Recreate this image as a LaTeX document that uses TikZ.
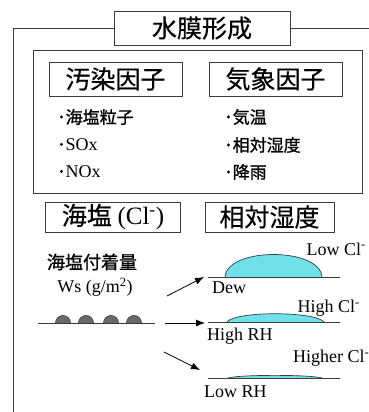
\documentclass[tikz,border=0pt]{standalone}
\usepackage{fontspec}
\setmainfont{Liberation Serif}
\newfontfamily\jp[FakeBold=0.4]{Noto Sans CJK JP}
\newfontfamily\jpm[FakeBold=1]{Noto Sans CJK JP}
\usetikzlibrary{arrows.meta}

\definecolor{edge}{RGB}{60,60,60}
\definecolor{dropfill}{RGB}{110,226,232}
\definecolor{saltfill}{RGB}{105,105,105}

\begin{document}
\begin{tikzpicture}[x=1pt,y=1pt,
  box/.style={draw=edge, line width=0.8pt, inner sep=0pt, font=\jp\fontsize{25}{27}\selectfont},
  item/.style={anchor=west, inner sep=0pt, font=\jpm\fontsize{17}{19}\selectfont},
  lbl/.style={inner sep=0pt, font=\fontsize{18}{20}\selectfont},
  go/.style={-{Latex[length=9pt,width=7pt]}, line width=0.8pt, draw=black},
  ground/.style={line width=0.8pt, draw=edge}]
  \useasboundingbox (0,0) rectangle (369,412);

  % outer frame with title
  \node[box, minimum width=176pt, minimum height=34pt] (title) at (202,384) {水膜形成};
  \coordinate (corner) at (13,0);
  \draw[ground] (corner) |- (title.west);
  \draw[ground] (title.east) -- ++(90,0);

  % factors
  \draw[ground] (33,219) rectangle (362,362);
  \node[box, minimum width=133pt, minimum height=34pt] (pollute) at (115.5,333) {汚染因子};
  \node[box, minimum width=133pt, minimum height=34pt] (weather) at (275.5,333) {気象因子};
  \node[item] (p1) at (57,295) {･海塩粒子};
  \node[item] (p2) at (57,267) {･\fontsize{18}{20}\rmfamily SOx};
  \node[item] (p3) at (57,240) {･\fontsize{18}{20}\rmfamily NOx};
  \node[item] (w1) at (224,295) {･気温};
  \node[item] (w2) at (224,267) {･相対湿度};
  \node[item] (w3) at (224,240) {･降雨};

  \node[box, minimum width=135pt, minimum height=30pt] (salt) at (113,195) {海塩 \rmfamily(Cl\textsuperscript{-})};
  \node[box, minimum width=129pt, minimum height=30pt] (humid) at (269.5,195) {相対湿度};

  % deposited salt
  \node[item, anchor=center, font=\jpm\fontsize{18}{20}\selectfont] (wsname) at (92,150) {海塩付着量};
  \node[lbl] (wsunit) at (95,125) {Ws (g/m\textsuperscript{2})};
  \foreach \x in {63,86,111,134}
    \draw[fill=saltfill, draw=edge, line width=0.6pt] (\x-7.5,89) arc[start angle=180, end angle=0, radius=7.5];
  \draw[ground] (38,89) -- (155,89);

  % water films
  \draw[fill=dropfill, draw=edge, line width=0.7pt] (225,135) .. controls (227,165) and (320,165) .. (322,135);
  \draw[fill=dropfill, draw=edge, line width=0.7pt] (227,90) .. controls (235,101) and (315,101) .. (324,90);
  \draw[fill=dropfill, draw=edge, line width=0.7pt] (228,34) .. controls (240,37.5) and (310,37.5) .. (322,34);
  \draw[ground] (208,135) -- (340,135);
  \draw[ground] (208,90) -- (340,90);
  \draw[ground] (208,34) -- (340,34);

  \node[lbl, anchor=east] (lowcl) at (366,163) {Low Cl\textsuperscript{-}};
  \node[lbl, anchor=west] (dew) at (212,124) {Dew};
  \node[lbl, anchor=east] (highcl) at (360,104) {High Cl\textsuperscript{-}};
  \node[lbl, anchor=west] (highrh) at (207,76) {High RH};
  \node[lbl, anchor=west] (highercl) at (293,54) {Higher Cl\textsuperscript{-}};
  \node[lbl, anchor=west] (lowrh) at (204,20) {Low RH};

  % arrows
  \coordinate (a1) at (167,116);
  \coordinate (b1) at (204,135);
  \coordinate (a2) at (165,89);
  \coordinate (b2) at (205,89);
  \coordinate (a3) at (164,60);
  \coordinate (b3) at (200,42);
  \draw[go] (a1) -- (b1);
  \draw[go] (a2) -- (b2);
  \draw[go] (a3) -- (b3);
\end{tikzpicture}
\end{document}
